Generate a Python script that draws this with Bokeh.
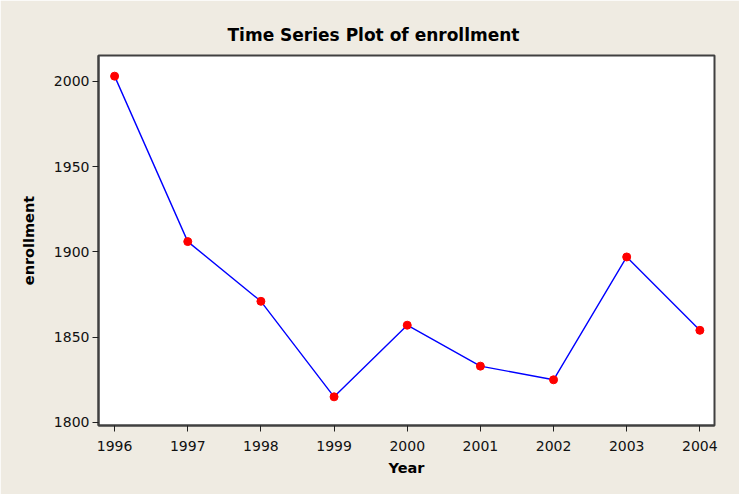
from bokeh.plotting import figure
from bokeh.models import FixedTicker, ColumnDataSource, Range1d
from bokeh.embed import file_html
from bokeh.resources import INLINE

years = [1996, 1997, 1998, 1999, 2000, 2001, 2002, 2003, 2004]
enrollment = [2003, 1906, 1871, 1815, 1857, 1833, 1825, 1897, 1854]
y_ticks = [1800, 1850, 1900, 1950, 2000]

BG = "#EFEBE2"
FONT = "DejaVu Sans"

src = ColumnDataSource(data=dict(year=years, enrollment=enrollment))

p = figure(width=739, height=494, output_backend="svg", toolbar_location=None,
           x_range=Range1d(1995.78, 2004.2), y_range=Range1d(1798.2, 2015.1),
           min_border_left=98, min_border_right=25, min_border_top=55, min_border_bottom=69)

p.background_fill_color = "white"
p.border_fill_color = BG
p.outline_line_color = "#404040"
p.outline_line_width = 2
p.grid.visible = False

p.title.text = "Time Series Plot of enrollment"
p.title.align = "left"
p.title.offset = 129
p.title.text_font = FONT
p.title.text_font_size = "17px"
p.title.text_font_style = "bold"
p.title.text_color = "black"
p.title.standoff = 21

for ax in (p.xaxis[0], p.yaxis[0]):
    ax.axis_line_color = "#404040"
    ax.axis_line_width = 2
    ax.major_tick_out = 6
    ax.major_tick_in = 0
    ax.major_tick_line_color = "#202020"
    ax.major_tick_line_width = 1
    ax.minor_tick_line_color = None
    ax.major_label_text_font = FONT
    ax.major_label_text_font_size = "14px"
    ax.major_label_text_color = "#111111"
    ax.axis_label_text_font = FONT
    ax.axis_label_text_font_size = "14.5px"
    ax.axis_label_text_font_style = "bold"
    ax.axis_label_text_color = "black"

p.xaxis.ticker = FixedTicker(ticks=years)
p.yaxis.ticker = FixedTicker(ticks=y_ticks)
p.xaxis.axis_label = "Year"
p.yaxis.axis_label = "enrollment"
p.xaxis.major_label_standoff = 9
p.yaxis.major_label_standoff = 3
p.xaxis.axis_label_standoff = 6
p.yaxis.axis_label_standoff = 14

p.line("year", "enrollment", source=src, line_color="#0000FF", line_width=1.4)
p.scatter("year", "enrollment", source=src, size=8, fill_color="#FF0000", line_color="#FF0000")

open("out.html", "w").write(file_html(p, INLINE))
